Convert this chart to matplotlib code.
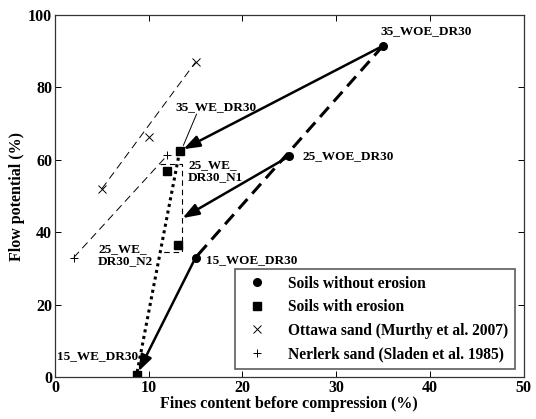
import matplotlib
matplotlib.use("Agg")
import matplotlib.pyplot as plt
import numpy as np

# ---- data ----
woe_names = ["15_WOE_DR30", "25_WOE_DR30", "35_WOE_DR30"]
woe_x = [15.0, 25.0, 35.0]
woe_y = [33.0, 61.0, 91.5]

we_names = ["15_WE_DR30", "35_WE_DR30", "25_WE_\nDR30_N1", "25_WE_\nDR30_N2"]
we_x = [8.7, 13.3, 12.0, 13.1]
we_y = [0.5, 62.4, 56.9, 36.5]

ottawa_x = [5.0, 10.0, 15.0]
ottawa_y = [52.0, 66.3, 87.0]

nerlerk_x = [2.0, 12.0]
nerlerk_y = [33.0, 61.3]

x_ticks = [0, 10, 20, 30, 40, 50]
y_ticks = [0, 20, 40, 60, 80, 100]

legend_labels = ["Soils without erosion", "Soils with erosion",
                 "Ottawa sand (Murthy et al. 2007)", "Nerlerk sand (Sladen et al. 1985)"]

plt.rcParams['font.family'] = ['Liberation Serif', 'DejaVu Serif']
plt.rcParams['font.weight'] = 'bold'

fig = plt.figure(figsize=(5.36, 4.19), dpi=100)
ax = fig.add_axes([0.1026, 0.1002, 0.977 - 0.1026, 0.9642 - 0.1002])

# reference lines for literature sands
ax.plot([ottawa_x[0], ottawa_x[-1]], [ottawa_y[0], ottawa_y[-1]], color='k', lw=0.7,
        dashes=(8, 5))
ax.plot(nerlerk_x, nerlerk_y, color='k', lw=0.7, dashes=(8, 5))

# bracket around N1/N2
bx0, bx1 = 11.2, 13.6
by0, by1 = 34.5, 58.8
ax.plot([bx0, bx1, bx1, bx0], [by1, by1, by0, by0], color='k', lw=0.8, dashes=(5, 3.5))

# thick dashed line between soils without erosion
ax.plot([woe_x[2], woe_x[0]], [woe_y[2], woe_y[0]], color='k', lw=2.2, dashes=(4.3, 2.4))
# dotted line between soils with erosion
ax.plot([we_x[1], we_x[0]], [we_y[1], we_y[0]], color='k', lw=2.2, ls=(0, (1, 1.2)))

# arrows
astyle = '-|>,head_length=0.7,head_width=0.25'
arrow_kw = dict(arrowstyle=astyle, lw=1.8, color='k', mutation_scale=14,
                shrinkA=3, shrinkB=3)
ax.annotate('', xy=(we_x[1], we_y[1]), xytext=(woe_x[2], woe_y[2]), arrowprops=arrow_kw)
ax.annotate('', xy=(we_x[0], we_y[0]), xytext=(woe_x[0], woe_y[0]), arrowprops=arrow_kw)
ax.annotate('', xy=(bx1, 43.9), xytext=(woe_x[1], woe_y[1]),
            arrowprops=dict(arrowstyle=astyle, lw=1.8, color='k', mutation_scale=14,
                            shrinkA=3, shrinkB=0))

# markers
ax.plot(woe_x, woe_y, 'o', color='k', ms=5.5, ls='none', label=legend_labels[0])
ax.plot(we_x, we_y, 's', color='k', ms=5.5, ls='none', label=legend_labels[1])
ax.plot(ottawa_x, ottawa_y, 'x', color='k', ms=6, mew=0.7, ls='none', label=legend_labels[2])
ax.plot(nerlerk_x, nerlerk_y, '+', color='k', ms=6, mew=0.7, ls='none', label=legend_labels[3])

# labels
fs = 9.5
ax.text(34.7, 95.5, woe_names[2], fontsize=fs, fontweight='bold', va='center', ha='left')
ax.text(26.4, 61.0, woe_names[1], fontsize=fs, fontweight='bold', va='center', ha='left')
ax.text(16.1, 32.3, woe_names[0], fontsize=fs, fontweight='bold', va='center', ha='left')
ax.text(0.2, 5.8, we_names[0], fontsize=fs, fontweight='bold', va='center', ha='left')
ax.text(14.2, 57.0, we_names[2], fontsize=fs, fontweight='bold', va='center', ha='left',
        linespacing=1.0)
ax.text(4.6, 33.8, we_names[3], fontsize=fs, fontweight='bold', va='center', ha='left',
        linespacing=1.0)
ax.text(12.8, 74.6, we_names[1], fontsize=fs, fontweight='bold', va='center', ha='left')
ax.plot([15.1, 13.7], [72.6, 64.0], color='k', lw=0.7)

ax.set_xlim(0, 50)
ax.set_ylim(0, 100)
ax.set_xticks(x_ticks)
ax.set_yticks(y_ticks)
ax.tick_params(direction='in', top=True, right=True, labelsize=11.5, length=4, width=0.7,
               pad=2)
for lab in ax.get_xticklabels() + ax.get_yticklabels():
    lab.set_fontweight('bold')
for s in ax.spines.values():
    s.set_linewidth(0.9)
    s.set_color('#333333')

ax.set_xlabel("Fines content before compression (%)", fontsize=11.5, fontweight='bold',
              labelpad=0)
ax.set_ylabel("Flow potential (%)", fontsize=11.5, fontweight='bold', labelpad=2)

leg = ax.legend(loc='lower right', bbox_to_anchor=(0.981, 0.022), borderaxespad=0,
                fontsize=11.2, frameon=True, fancybox=False, edgecolor='#333333',
                handlelength=2.0, handletextpad=1.0, labelspacing=0.49, borderpad=0.42,
                numpoints=1)
leg.get_frame().set_linewidth(1.2)
for t in leg.get_texts():
    t.set_fontweight('bold')

fig.savefig("out.png", dpi=100)
